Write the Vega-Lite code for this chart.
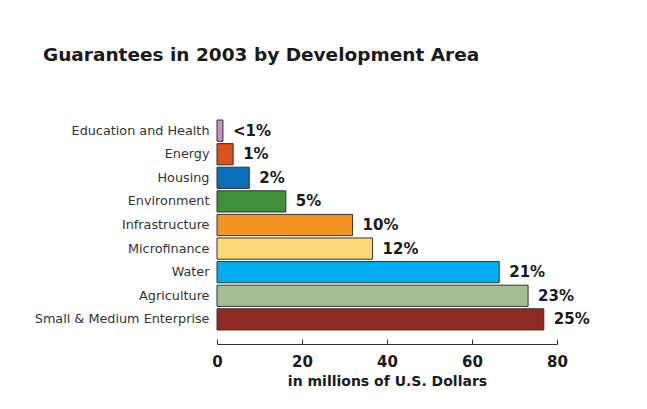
{
  "$schema": "https://vega.github.io/schema/vega-lite/v6.json",
  "autosize": {"type": "none"},
  "width": 340,
  "height": 210,
  "padding": {"left": 217, "top": 120, "right": 90, "bottom": 79},
  "background": "white",
  "title": {
    "text": "Guarantees in 2003 by Development Area",
    "anchor": "start",
    "frame": "group",
    "dx": -174,
    "offset": 55,
    "font": "DejaVu Sans",
    "fontSize": 18.5,
    "fontWeight": "bold",
    "color": "#1a1a1a"
  },
  "data": {
    "values": [
      {"area": "Education and Health", "amount": 1.4, "label": "<1%", "color": "#c98fc3"},
      {"area": "Energy", "amount": 3.8, "label": "1%", "color": "#d9531e"},
      {"area": "Housing", "amount": 7.6, "label": "2%", "color": "#0a6fb8"},
      {"area": "Environment", "amount": 16.2, "label": "5%", "color": "#3e9138"},
      {"area": "Infrastructure", "amount": 31.9, "label": "10%", "color": "#f39320"},
      {"area": "Microfinance", "amount": 36.6, "label": "12%", "color": "#fed97a"},
      {"area": "Water", "amount": 66.4, "label": "21%", "color": "#00aeef"},
      {"area": "Agriculture", "amount": 73.2, "label": "23%", "color": "#a3bf92"},
      {"area": "Small & Medium Enterprise", "amount": 76.9, "label": "25%", "color": "#922a24"}
    ]
  },
  "encoding": {
    "y": {
      "field": "area",
      "type": "nominal",
      "sort": null,
      "title": null,
      "scale": {"paddingInner": 0.1, "paddingOuter": 0},
      "axis": {
        "ticks": false,
        "domain": false,
        "labelPadding": 8,
        "labelFont": "DejaVu Sans",
        "labelFontSize": 12.8,
        "labelColor": "#333333"
      }
    },
    "x": {
      "field": "amount",
      "type": "quantitative",
      "scale": {"domain": [0, 80]},
      "title": "in millions of U.S. Dollars",
      "axis": {
        "values": [0, 20, 40, 60, 80],
        "grid": false,
        "offset": 14,
        "tickSize": -5,
        "tickColor": "#333333",
        "domainColor": "#333333",
        "labelFlush": false,
        "labelPadding": 15,
        "labelFont": "DejaVu Sans",
        "labelFontSize": 15,
        "labelFontWeight": "bold",
        "labelColor": "#1a1a1a",
        "titleFont": "DejaVu Sans",
        "titleFontSize": 14,
        "titleFontWeight": "bold",
        "titleColor": "#1a1a1a",
        "titlePadding": 5
      }
    }
  },
  "layer": [
    {
      "mark": {"type": "bar", "stroke": "#333333", "strokeWidth": 1},
      "encoding": {
        "color": {"field": "color", "type": "nominal", "scale": null}
      }
    },
    {
      "mark": {
        "type": "text",
        "align": "left",
        "baseline": "middle",
        "dx": 10,
        "font": "DejaVu Sans",
        "fontSize": 15,
        "fontWeight": "bold",
        "color": "#1a1a1a"
      },
      "encoding": {
        "text": {"field": "label"}
      }
    }
  ],
  "config": {"view": {"stroke": null}}
}
